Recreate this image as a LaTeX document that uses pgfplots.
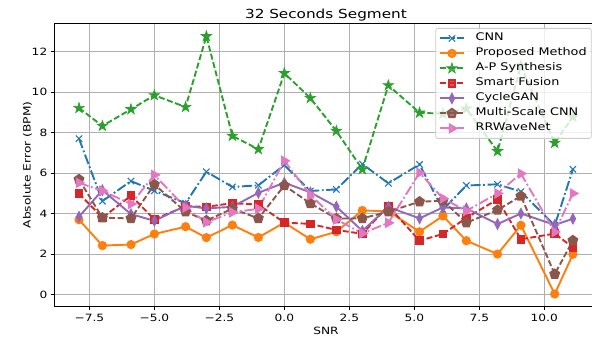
\documentclass[border=0pt]{standalone}
\usepackage{fontspec}
\setmainfont{DejaVu Sans}[FakeStretch=1.22]
\usepackage{pgfplots}
\usepackage{pgfplotstable}
\pgfplotsset{compat=1.18}
\definecolor{c0}{HTML}{1F77B4}
\definecolor{c1}{HTML}{FF7F0E}
\definecolor{c2}{HTML}{2CA02C}
\definecolor{c3}{HTML}{D62728}
\definecolor{c4}{HTML}{9467BD}
\definecolor{c5}{HTML}{8C564B}
\definecolor{c6}{HTML}{E377C2}
\definecolor{gridc}{HTML}{B0B0B0}
\definecolor{legc}{HTML}{CCCCCC}
\pgfdeclareplotmark{fstar}{%
  \pgfpathmoveto{\pgfpointpolar{90}{\pgfplotmarksize}}%
  \pgfpathlineto{\pgfpointpolar{126}{0.382\pgfplotmarksize}}%
  \pgfpathlineto{\pgfpointpolar{162}{\pgfplotmarksize}}%
  \pgfpathlineto{\pgfpointpolar{198}{0.382\pgfplotmarksize}}%
  \pgfpathlineto{\pgfpointpolar{234}{\pgfplotmarksize}}%
  \pgfpathlineto{\pgfpointpolar{270}{0.382\pgfplotmarksize}}%
  \pgfpathlineto{\pgfpointpolar{306}{\pgfplotmarksize}}%
  \pgfpathlineto{\pgfpointpolar{342}{0.382\pgfplotmarksize}}%
  \pgfpathlineto{\pgfpointpolar{18}{\pgfplotmarksize}}%
  \pgfpathlineto{\pgfpointpolar{54}{0.382\pgfplotmarksize}}%
  \pgfpathclose
  \pgfusepathqfillstroke
}
\pgfplotstableread{
x     cnn   prop  aps    sf    cg    ms    rr
-7.9  7.70  3.70  9.21   5.00  3.85  5.69  5.52
-7.0  4.62  2.43  8.33   3.80  5.16  3.80  5.13
-5.9  5.61  2.48  9.15   4.89  3.98  3.77  4.48
-5.0  5.13  3.00  9.84   3.72  3.65  5.44  5.91
-3.8  4.52  3.36  9.26   4.37  4.39  4.10  4.30
-3.0  6.07  2.82  12.75  4.34  4.26  3.66  3.58
-2.0  5.32  3.44  7.84   4.52  4.34  4.25  4.07
-1.0  5.40  2.83  7.18   4.45  5.03  3.77  4.24
0.0   6.40  3.56  10.93  3.56  5.53  5.39  6.61
1.0   5.12  2.74  9.70   3.50  5.05  4.51  4.92
2.0   5.20  3.11  8.08   3.20  4.35  3.76  3.72
3.0   6.45  4.16  6.19   3.01  3.15  3.77  3.03
4.0   5.50  4.12  10.33  4.38  4.33  4.10  3.55
5.2   6.43  3.11  8.98   2.67  3.77  4.59  6.02
6.1   4.20  3.89  8.93   3.00  4.31  4.64  4.75
7.0   5.39  2.67  9.18   3.79  4.26  3.56  4.14
8.2   5.45  2.01  7.08   4.71  3.49  4.18  5.00
9.1   5.09  3.43  11.30  2.74  4.01  4.87  5.98
10.4  3.42  0.04  7.49   3.02  3.45  1.02  3.10
11.1  6.19  2.00  8.78   2.34  3.75  2.68  5.00
}\datatable
\tikzset{
  ddash/.style={dash pattern=on 6pt off 2.6pt},
  ddot/.style={dash pattern=on 10pt off 2.6pt on 1.8pt off 2.6pt},
}
\begin{document}
\begin{tikzpicture}
\begin{axis}[
  name=ax,
  scale only axis,
  width=543.3pt, height=283.4pt,
  xmin=-8.85, xmax=12.05,
  ymin=-0.585, ymax=13.39,
  xtick={-7.5,-5,-2.5,0,2.5,5,7.5,10},
  xticklabels={−7.5,−5.0,−2.5,0.0,2.5,5.0,7.5,10.0},
  ytick={0,2,4,6,8,10,12},
  yticklabels={0,2,4,6,8,10,12},
  minor tick num=0,
  tick align=outside,
  major tick length=3.5pt,
  tick style={black, line width=0.8pt},
  axis line style={black, line width=0.8pt},
  xtick pos=bottom, ytick pos=left,
  grid=major,
  major grid style={gridc, line width=0.8pt},
  ticklabel style={font=\fontsize{10}{12}\selectfont},
  label style={font=\fontsize{10}{12}\selectfont},
  xlabel={SNR},
  ylabel={Absolute Error (BPM)},
  xlabel style={at={(axis description cs:0.5,0)}, anchor=base, yshift=-27.5pt},
  ylabel style={at={(axis description cs:-0.0495,0.5)}, rotate=0, anchor=center},
  title={32 Seconds Segment},
  title style={font=\fontsize{12.5}{14}\selectfont, at={(axis description cs:0.5,1)}, anchor=base, yshift=-1pt},
  every axis plot/.append style={line width=1.9pt},
  legend cell align=left,
  legend image code/.code={%
    \draw[mark repeat=2,mark phase=2,#1] plot coordinates {(0cm,0cm) (0.43cm,0cm) (0.86cm,0cm)};},
  legend style={
    at={(1,1)}, anchor=north east, xshift=-6pt, yshift=-4.7pt,
    font=\fontsize{10.5}{12}\selectfont,
    draw=legc, line width=0.8pt, fill=white, fill opacity=0.8, text opacity=1,
    rounded corners=2pt,
    inner xsep=3pt, inner ysep=2.5pt,
    row sep=0pt, column sep=9pt,
    nodes={inner sep=1.5pt, text height=8.5pt, text depth=3.5pt},
  },
]
\addplot[c0, ddot, mark=x, mark size=4.5pt, mark options={solid, line width=1.1pt}] table[x=x,y=cnn] {\datatable};
\addlegendentry{CNN}
\addplot[c1, solid, mark=*, mark size=3.6pt, mark options={solid, fill=c1}] table[x=x,y=prop] {\datatable};
\addlegendentry{Proposed Method}
\addplot[c2, ddash, mark=fstar, mark size=5.6pt, mark options={solid, fill=c2, line width=0.6pt}] table[x=x,y=aps] {\datatable};
\addlegendentry{A-P Synthesis}
\addplot[c3, ddash, mark=square*, mark size=3.3pt, mark options={solid, fill=c3}] table[x=x,y=sf] {\datatable};
\addlegendentry{Smart Fusion}
\addplot[c4, solid, mark=diamond*, mark size=4.2pt, mark options={solid, fill=c4, xscale=0.7}] table[x=x,y=cg] {\datatable};
\addlegendentry{CycleGAN}
\addplot[c5, ddash, mark=pentagon*, mark size=4.6pt, mark options={solid, fill=c5}] table[x=x,y=ms] {\datatable};
\addlegendentry{Multi-Scale CNN}
\addplot[c6, ddot, mark=triangle*, mark size=4.4pt, mark options={solid, fill=c6, rotate=-90}] table[x=x,y=rr] {\datatable};
\addlegendentry{RRWaveNet}
\end{axis}
\pgfresetboundingbox
\path[use as bounding box] ([xshift=-54.3pt,yshift=-32.3pt]ax.south west) rectangle ([xshift=-5.6pt,yshift=23.3pt]ax.north east);
\end{tikzpicture}
\end{document}
